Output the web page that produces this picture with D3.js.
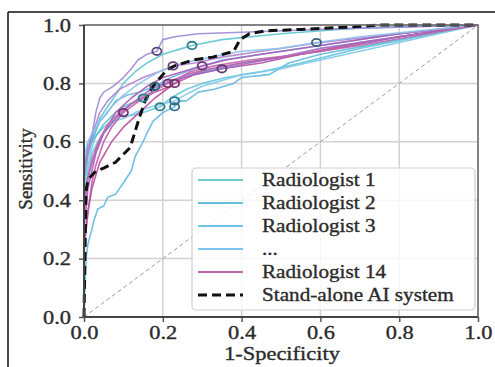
<!DOCTYPE html>
<html><head><meta charset="utf-8">
<script src="https://cdn.jsdelivr.net/npm/d3@7"></script>
<style>
html,body{margin:0;padding:0;background:#fff;}
svg{display:block;}
svg text{font-family:"Liberation Serif","DejaVu Serif",serif !important;fill:#2b2b2b;stroke:#2b2b2b;stroke-width:0.35px;}
</style></head>
<body><svg id="chart" width="495" height="367"></svg>
<script>
// ---------------- data ----------------
const tickValues = [0, 0.2, 0.4, 0.6, 0.8, 1.0];
const tickLabels = ["0.0", "0.2", "0.4", "0.6", "0.8", "1.0"];
const legendLabels = ["Radiologist 1", "Radiologist 2", "Radiologist 3", "...", "Radiologist 14", "Stand-alone AI system"];
const legendColors = ["#6ecbd2", "#64c0e0", "#6cc5e2", "#7cc5ec", "#c565a9", "#111"];

const radiologistColors = ["#5ec7cf", "#62b8e2", "#66c6dc", "#7cc8ea", "#52c0ca", "#68b6e4",
  "#a08ad6", "#b27fcf", "#c05aa8", "#bb4f9f", "#a95cb8", "#9e6cc4", "#8fc2ea", "#c266a8"];

const r1  = [[0,0],[0,0.45],[0.01,0.55],[0.02,0.6],[0.04,0.68],[0.06,0.72],[0.08,0.76],[0.1,0.8],[0.13,0.84],[0.16,0.87],[0.2,0.9],[0.25,0.92],[0.274,0.93],[0.35,0.95],[0.5,0.97],[0.7,0.99],[1,1]];
const r2  = [[0,0],[0.005,0.2],[0.01,0.25],[0.02,0.3],[0.025,0.33],[0.035,0.37],[0.05,0.38],[0.06,0.41],[0.08,0.42],[0.1,0.46],[0.12,0.5],[0.13,0.55],[0.15,0.6],[0.16,0.63],[0.175,0.67],[0.2,0.7],[0.23,0.72],[0.24,0.74],[0.26,0.74],[0.29,0.77],[0.33,0.78],[0.38,0.8],[0.4,0.82],[0.47,0.83],[0.52,0.87],[0.6,0.9],[0.8,0.95],[1,1]];
const r3  = [[0,0],[0,0.4],[0.01,0.5],[0.02,0.56],[0.035,0.6],[0.05,0.63],[0.07,0.66],[0.09,0.69],[0.12,0.69],[0.15,0.7],[0.193,0.72],[0.22,0.75],[0.26,0.78],[0.3,0.8],[0.36,0.82],[0.45,0.84],[0.55,0.87],[0.7,0.92],[1,1]];
const r4  = [[0,0],[0,0.45],[0.01,0.52],[0.02,0.58],[0.03,0.62],[0.05,0.65],[0.07,0.67],[0.1,0.68],[0.13,0.7],[0.17,0.72],[0.2,0.73],[0.23,0.74],[0.27,0.77],[0.3,0.79],[0.35,0.81],[0.4,0.83],[0.5,0.85],[0.6,0.88],[0.8,0.94],[1,1]];
const r5  = [[0,0],[0,0.5],[0.01,0.58],[0.02,0.6],[0.03,0.62],[0.05,0.66],[0.08,0.7],[0.1,0.72],[0.15,0.75],[0.19,0.79],[0.23,0.81],[0.3,0.84],[0.4,0.87],[0.5,0.89],[0.6,0.91],[0.8,0.96],[1,1]];
const r6  = [[0,0],[0,0.5],[0.01,0.6],[0.025,0.62],[0.04,0.67],[0.06,0.7],[0.08,0.74],[0.11,0.76],[0.14,0.77],[0.18,0.79],[0.22,0.82],[0.28,0.85],[0.35,0.88],[0.45,0.9],[0.6,0.93],[0.8,0.97],[1,1]];
const r7  = [[0,0],[0,0.5],[0.01,0.58],[0.02,0.62],[0.03,0.7],[0.04,0.75],[0.05,0.77],[0.074,0.79],[0.1,0.82],[0.12,0.85],[0.137,0.88],[0.16,0.9],[0.185,0.91],[0.2,0.95],[0.23,0.96],[0.29,0.97],[0.4,0.975],[0.6,0.985],[1,1]];
const r8  = [[0,0],[0,0.48],[0.01,0.56],[0.02,0.62],[0.04,0.7],[0.06,0.74],[0.09,0.78],[0.12,0.8],[0.15,0.82],[0.19,0.84],[0.226,0.86],[0.28,0.87],[0.35,0.89],[0.45,0.91],[0.6,0.94],[0.8,0.97],[1,1]];
const r9  = [[0,0],[0,0.22],[0.01,0.36],[0.02,0.46],[0.03,0.52],[0.05,0.6],[0.07,0.65],[0.1,0.7],[0.14,0.74],[0.18,0.77],[0.22,0.79],[0.26,0.83],[0.32,0.85],[0.4,0.87],[0.5,0.89],[0.6,0.91],[0.8,0.96],[1,1]];
const r10 = [[0,0],[0,0.25],[0.01,0.36],[0.02,0.44],[0.04,0.53],[0.07,0.6],[0.1,0.65],[0.14,0.7],[0.18,0.75],[0.23,0.8],[0.28,0.83],[0.35,0.85],[0.45,0.87],[0.55,0.9],[0.7,0.94],[1,1]];
const r11 = [[0,0],[0,0.3],[0.01,0.44],[0.03,0.56],[0.05,0.63],[0.08,0.7],[0.12,0.75],[0.16,0.79],[0.2,0.82],[0.25,0.84],[0.3,0.86],[0.36,0.88],[0.45,0.9],[0.6,0.93],[0.8,0.97],[1,1]];
const r12 = [[0,0],[0,0.38],[0.01,0.48],[0.03,0.57],[0.05,0.63],[0.08,0.68],[0.12,0.73],[0.17,0.78],[0.22,0.81],[0.28,0.83],[0.35,0.85],[0.42,0.87],[0.5,0.89],[0.6,0.92],[0.8,0.96],[1,1]];
const r13 = [[0,0],[0,0.55],[0.01,0.6],[0.02,0.63],[0.04,0.67],[0.07,0.72],[0.1,0.76],[0.14,0.8],[0.19,0.84],[0.25,0.87],[0.32,0.89],[0.4,0.91],[0.5,0.92],[0.59,0.94],[0.7,0.96],[0.85,0.98],[1,1]];
const r14 = [[0,0],[0,0.35],[0.01,0.47],[0.02,0.54],[0.04,0.61],[0.06,0.66],[0.09,0.7],[0.12,0.73],[0.16,0.76],[0.213,0.8],[0.27,0.84],[0.33,0.86],[0.42,0.88],[0.55,0.9],[0.7,0.93],[1,1]];
const radiologistCurves = [r1,r2,r3,r4,r5,r6,r7,r8,r9,r10,r11,r12,r13,r14];

const aiCurve = [[0,0],[0.005,0.43],[0.01,0.47],[0.03,0.5],[0.05,0.51],[0.08,0.53],[0.117,0.58],[0.14,0.68],[0.155,0.74],[0.175,0.79],[0.21,0.846],[0.23,0.86],[0.277,0.88],[0.327,0.89],[0.38,0.91],[0.396,0.95],[0.42,0.97],[0.46,0.98],[0.55,0.985],[0.675,0.993],[0.75,1],[1,1]];

// operating points
const opFpr = [0.274, 0.23, 0.193, 0.23, 0.15, 0.18, 0.185, 0.226, 0.1, 0.23, 0.30, 0.35, 0.59, 0.213];
const opTpr = [0.93, 0.72, 0.72, 0.74, 0.75, 0.79, 0.91, 0.86, 0.70, 0.80, 0.86, 0.85, 0.94, 0.80];
const opColors = ["#2f7f8c","#2f6f8c","#2f7f8c","#2f6f8c","#2f7f8c","#35607a","#5a4a80","#6a3a78","#7a2f6a","#7a2f6a","#6a3a78","#5e3a78","#3a5f7a","#7a2f6a"];

// ---------------- drawing ----------------
const svg = d3.select("#chart");
const W = 495, H = 367;
const X0 = 84, X1 = 478, Y0 = 317, Y1 = 25;
const sx = 1.18; // horizontal text stretch of the reference
const FONT = "Liberation Serif";
const x = d3.scaleLinear().domain([0,1]).range([X0, X1]);
const y = d3.scaleLinear().domain([0,1]).range([Y0, Y1]);

// outer frame
svg.append("line").attr("x1",8).attr("x2",8).attr("y1",12).attr("y2",H).attr("stroke","#111").attr("stroke-width",1.5);
svg.append("line").attr("x1",8).attr("x2",W).attr("y1",12).attr("y2",12).attr("stroke","#111").attr("stroke-width",1.5);

// grid
const grid = svg.append("g");
tickValues.forEach(v => {
  grid.append("line").attr("x1",x(v)).attr("x2",x(v)).attr("y1",Y1).attr("y2",Y0).attr("stroke","#d2d2d2").attr("stroke-width",1.5);
  grid.append("line").attr("x1",X0).attr("x2",X1).attr("y1",y(v)).attr("y2",y(v)).attr("stroke","#d2d2d2").attr("stroke-width",1.5);
});

// diagonal
svg.append("line").attr("x1",x(0)).attr("y1",y(0)).attr("x2",x(1)).attr("y2",y(1))
  .attr("stroke","#9a9a9a").attr("stroke-width",1).attr("stroke-dasharray","4,3");

const line = d3.line().x(d => x(d[0])).y(d => y(d[1]));

svg.append("g").selectAll("path").data(radiologistCurves).join("path")
  .attr("d", line).attr("fill","none")
  .attr("stroke",(d,i)=>radiologistColors[i]).attr("stroke-width",1.6).attr("stroke-opacity",0.9)
  .attr("stroke-linejoin","round");

svg.append("path").datum(aiCurve).attr("d",line).attr("fill","none")
  .attr("stroke","#111").attr("stroke-width",3).attr("stroke-dasharray","9,5");

svg.append("g").selectAll("ellipse").data(opFpr).join("ellipse")
  .attr("cx",(d)=>x(d)).attr("cy",(d,i)=>y(opTpr[i])).attr("rx",4.6).attr("ry",3.7)
  .attr("fill","none").attr("stroke",(d,i)=>opColors[i]).attr("stroke-width",1.8);

// axes
const xAxis = d3.axisBottom(x).tickValues(tickValues).tickFormat((d,i)=>tickLabels[i]).tickSize(5).tickPadding(4);
const yAxis = d3.axisLeft(y).tickValues(tickValues).tickFormat((d,i)=>tickLabels[i]).tickSize(5).tickPadding(4);
const gx = svg.append("g").attr("transform",`translate(0,${Y0})`).call(xAxis);
const gy = svg.append("g").attr("transform",`translate(${X0},0)`).call(yAxis);
[gx, gy].forEach(g => {
  g.attr("font-family", FONT).attr("font-size", 19);
  g.select(".domain").remove();
  g.selectAll(".tick line").attr("stroke","#555").attr("stroke-width",1.5);
  g.selectAll(".tick text").attr("font-family", FONT).attr("font-size",19).attr("fill","#2b2b2b");
});
gx.selectAll(".tick text").attr("y",9).attr("transform",`scale(${sx},1)`);
gy.selectAll(".tick text").attr("x",-11).attr("transform",`scale(${sx},1)`);

// spines
svg.append("rect").attr("x",X0).attr("y",Y1).attr("width",X1-X0).attr("height",Y0-Y1)
  .attr("fill","none").attr("stroke","#666").attr("stroke-width",1.5);
svg.append("line").attr("x1",X0).attr("x2",X0).attr("y1",Y1).attr("y2",Y0).attr("stroke","#444").attr("stroke-width",2);
svg.append("line").attr("x1",X0).attr("x2",X1).attr("y1",Y0).attr("y2",Y0).attr("stroke","#444").attr("stroke-width",2);

// axis labels
svg.append("text").attr("transform",`translate(282,360) scale(${sx},1)`).attr("text-anchor","middle")
  .attr("font-family", FONT).attr("font-size",19).text("1-Specificity");
svg.append("text").attr("transform",`translate(32,169) rotate(-90)`).attr("text-anchor","middle")
  .attr("font-family", FONT).attr("font-size",19).text("Sensitivity");

// legend
const lg = svg.append("g");
lg.append("rect").attr("x",192).attr("y",168).attr("width",283).attr("height",142).attr("rx",4)
  .attr("fill","#fff").attr("fill-opacity",0.82).attr("stroke","#cfcfcf").attr("stroke-width",1.2);
const rowY = d3.scaleLinear().domain([0,5]).range([180,295]);
legendLabels.forEach((lab,i) => {
  const yy = rowY(i);
  lg.append("line").attr("x1",198).attr("x2",243).attr("y1",yy).attr("y2",yy)
    .attr("stroke",legendColors[i]).attr("stroke-width", i===5 ? 3 : 2.2)
    .attr("stroke-dasharray", i===5 ? "9,5" : null);
  lg.append("text").attr("transform",`translate(262,${yy+6}) scale(${sx*0.97},1)`)
    .attr("font-family", FONT).attr("font-size",18.5).text(lab);
});
</script></body></html>
